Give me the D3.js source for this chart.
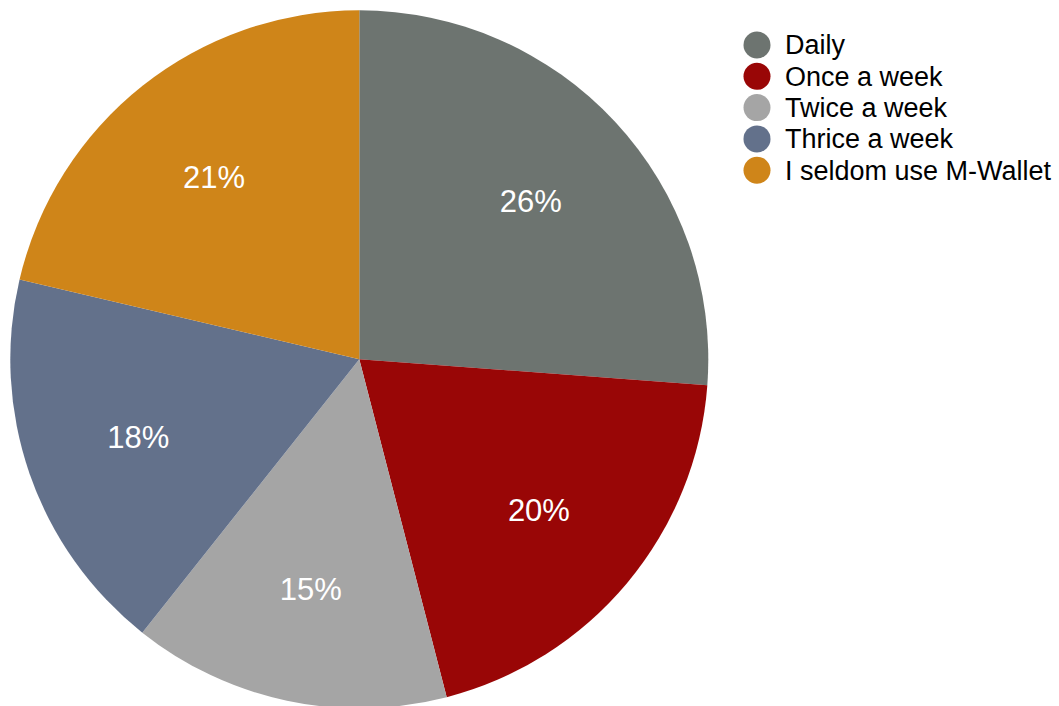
<!DOCTYPE html>
<html><head><meta charset="utf-8">
<script src="https://cdn.jsdelivr.net/npm/d3@7"></script>
<style>body{margin:0;background:#fff;}svg{display:block;}</style>
</head><body>
<svg id="chart" width="1059" height="706"></svg>
<script>
const categories = ["Daily", "Once a week", "Twice a week", "Thrice a week", "I seldom use M-Wallet"];
const values = [26.18, 19.79, 14.71, 17.99, 21.33];
const colors = ["#6d7470", "#990606", "#a5a5a5", "#63718b", "#cf8519"];

const svg = d3.select("#chart");
const cx = 359.3, cy = 359.3, R = 349;
const data = categories.map((c, i) => ({cat: c, val: values[i], color: colors[i]}));
const pie = d3.pie().value(d => d.val).sort(null);
const arc = d3.arc().innerRadius(0).outerRadius(R);
const labelArc = d3.arc().innerRadius(234).outerRadius(234);
const total = d3.sum(values);
const g = svg.append("g").attr("transform", `translate(${cx},${cy})`);
const arcs = pie(data);
g.selectAll("path").data(arcs).join("path")
  .attr("d", arc).attr("fill", d => d.data.color);
g.selectAll("text").data(arcs).join("text")
  .attr("transform", d => `translate(${labelArc.centroid(d)})`)
  .attr("text-anchor", "middle").attr("dy", "0.38em")
  .attr("fill", "#fff").attr("font-family", "Liberation Sans, Arial, sans-serif")
  .attr("font-size", 31)
  .text(d => Math.round(d.data.val / total * 100) + "%");

const leg = svg.append("g").attr("transform", "translate(757,45)");
const item = leg.selectAll("g").data(data).join("g")
  .attr("transform", (d, i) => `translate(0,${i * 31.3})`);
item.append("circle").attr("r", 13.5).attr("fill", d => d.color);
item.append("text").attr("x", 28).attr("dy", "0.35em")
  .attr("font-family", "Liberation Sans, Arial, sans-serif").attr("font-size", 27)
  .attr("fill", "#000").text(d => d.cat);
</script>
</body></html>
